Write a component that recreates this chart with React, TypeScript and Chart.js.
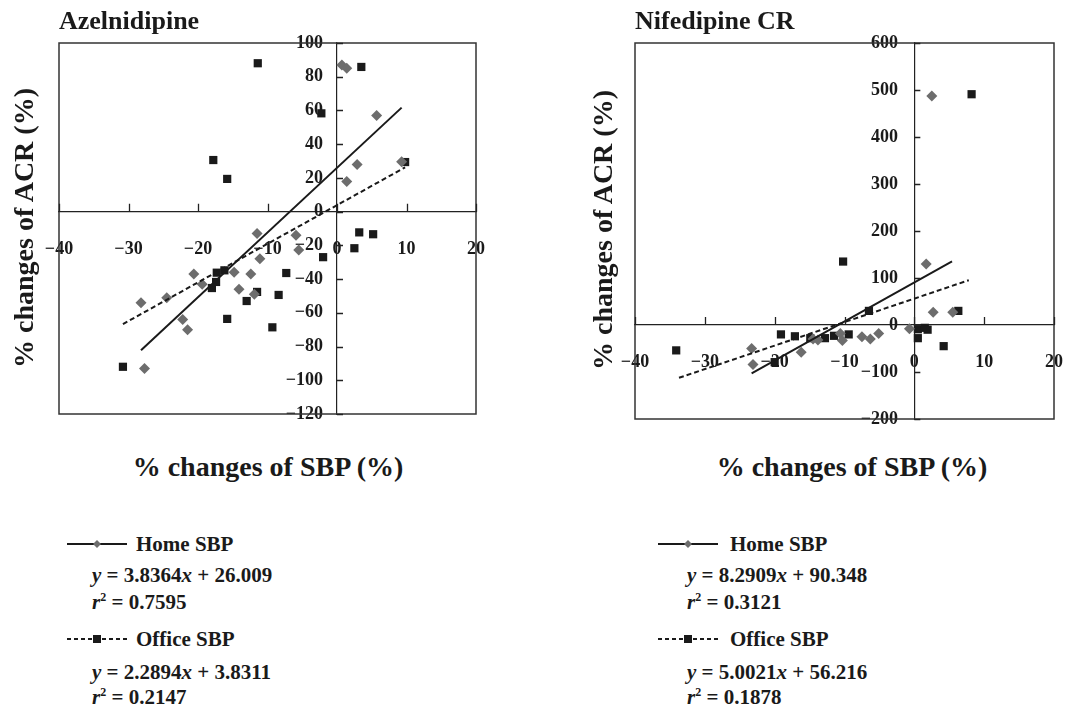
import React, { useEffect, useRef } from 'react';
import { Chart, registerables } from 'chart.js';

Chart.register(...registerables);

const SERIF = '"Liberation Serif", "Times New Roman", serif';
const INK = '#1a1a1a';
const GRAY = '#6d6d6d';

// ---------- Azelnidipine (left panel) ----------
const azHomeX = [0.7, 1.4, 5.7, 9.3, 2.9, 1.4, -11.5, -5.9, -5.5, -11.1, -20.6, -19.4, -14.8, -12.4, -14.1, -11.9, -24.5, -28.2, -22.2, -21.5, -27.7];
const azHomeY = [87, 85, 57, 29.6, 28, 17.8, -13, -14, -22.7, -28, -37, -43, -36, -37, -46, -49, -51, -54, -64, -70, -93];
const azOfficeX = [-11.4, 3.5, -2.25, 9.8, -17.8, -15.8, 3.2, 5.2, 2.5, -2.0, -7.3, -17.3, -16.2, -17.4, -18.0, -11.5, -8.4, -13.0, -15.8, -9.3, -30.8];
const azOfficeY = [88, 85.8, 58.3, 29.4, 30.6, 19.4, -12.3, -13.4, -21.7, -27, -36.4, -36.2, -34.8, -41.7, -45.3, -47.6, -49.4, -53, -63.6, -68.6, -92];
const AZ_HOME_SLOPE = 3.8364;
const AZ_HOME_INTERCEPT = 26.009;
const AZ_OFFICE_SLOPE = 2.2894;
const AZ_OFFICE_INTERCEPT = 3.8311;
const azHomeFitX = [-28.2, 9.3];
const azOfficeFitX = [-30.8, 9.8];

// ---------- Nifedipine CR (right panel) ----------
const nfHomeX = [2.5, 1.7, 2.7, 5.5, -0.7, -5.1, -6.3, -7.5, -10.6, -10.3, -13.8, -14.5, -16.2, -23.3, -23.1];
const nfHomeY = [487, 130, 27, 27, -8, -18, -30, -25, -18, -33, -32, -30, -58, -50, -84];
const nfOfficeX = [8.2, -10.2, -6.5, 6.3, 0.5, 1.5, 1.9, 0.5, 4.2, -34.1, -19.1, -17.1, -14.9, -12.8, -11.5, -9.4, -20.0];
const nfOfficeY = [491, 135, 30, 30, -9, -6, -10, -28, -45, -54, -20, -24, -28, -28, -23, -20, -79];
const NF_HOME_SLOPE = 8.2909;
const NF_HOME_INTERCEPT = 90.348;
const NF_OFFICE_SLOPE = 5.0021;
const NF_OFFICE_INTERCEPT = 56.216;
const nfHomeFitX = [-23.3, 5.4];
const nfOfficeFitX = [-33.7, 7.8];

// ---------- axes ----------
const xTickMin = -40;
const xTickMax = 20;
const xTickStep = 10;
const azYMin = -120;
const azYMax = 100;
const azYStep = 20;
const nfYMin = -200;
const nfYMax = 600;
const nfYStep = 100;

const toPoints = (xs: number[], ys: number[]) => xs.map((x, i) => ({ x, y: ys[i] }));
const fitPoints = (xs: number[], m: number, b: number) => xs.map((x) => ({ x, y: m * x + b }));
const fmt = (v: number | string) => {
  const n = Number(v);
  return n < 0 ? '\u2212' + Math.abs(n) : String(n);
};

// plot frame + inside tick marks on the crossing axes (positions come from the scales)
const framePlugin = {
  id: 'plotFrame',
  afterDraw(chart: any) {
    const { ctx, chartArea, scales } = chart;
    const xs = scales.x;
    const ys = scales.y;
    ctx.save();
    ctx.strokeStyle = '#333';
    ctx.lineWidth = 1.5;
    ctx.strokeRect(chartArea.left, chartArea.top, chartArea.right - chartArea.left, chartArea.bottom - chartArea.top);
    const y0 = ys.getPixelForValue(0);
    const x0 = xs.getPixelForValue(0);
    ctx.strokeStyle = '#222';
    ctx.lineWidth = 1.3;
    ctx.beginPath();
    xs.ticks.forEach((t: any) => {
      const px = Math.round(xs.getPixelForValue(t.value)) + 0.5;
      ctx.moveTo(px, y0);
      ctx.lineTo(px, y0 - 8);
    });
    ys.ticks.forEach((t: any) => {
      const py = Math.round(ys.getPixelForValue(t.value)) + 0.5;
      ctx.moveTo(x0, py);
      ctx.lineTo(x0 + 6, py);
    });
    ctx.stroke();
    ctx.restore();
  },
};

type PanelProps = {
  left: number;
  width: number;
  height: number;
  pad: { left: number; right: number; top: number; bottom: number };
  homeX: number[];
  homeY: number[];
  officeX: number[];
  officeY: number[];
  homeFitX: number[];
  officeFitX: number[];
  homeM: number;
  homeB: number;
  officeM: number;
  officeB: number;
  yMin: number;
  yMax: number;
  yStep: number;
  yLabelAt: number;
};

function Panel(p: PanelProps) {
  const ref = useRef<HTMLCanvasElement>(null);
  useEffect(() => {
    if (!ref.current) return;
    const tickFont = { family: SERIF, size: 18, weight: 'bold' as const };
    const chart = new Chart(ref.current, {
      type: 'scatter',
      data: {
        datasets: [
          {
            label: 'Home SBP fit',
            data: fitPoints(p.homeFitX, p.homeM, p.homeB),
            showLine: true,
            borderColor: INK,
            borderWidth: 2,
            pointRadius: 0,
            order: 1,
          },
          {
            label: 'Office SBP fit',
            data: fitPoints(p.officeFitX, p.officeM, p.officeB),
            showLine: true,
            borderColor: INK,
            borderWidth: 2,
            borderDash: [5, 3],
            pointRadius: 0,
            order: 1,
          },
          {
            label: 'Home SBP',
            data: toPoints(p.homeX, p.homeY),
            pointStyle: 'rectRot',
            pointRadius: 5.5,
            backgroundColor: GRAY,
            borderColor: GRAY,
            borderWidth: 0,
            order: 2,
          },
          {
            label: 'Office SBP',
            data: toPoints(p.officeX, p.officeY),
            pointStyle: 'rect',
            pointRadius: 5.8,
            backgroundColor: INK,
            borderColor: INK,
            borderWidth: 0,
            order: 2,
          },
        ],
      },
      options: {
        responsive: false,
        maintainAspectRatio: false,
        animation: false,
        events: [],
        layout: { padding: p.pad },
        plugins: {
          legend: { display: false },
          tooltip: { enabled: false },
          title: { display: false },
        },
        scales: {
          x: {
            type: 'linear',
            min: xTickMin,
            max: xTickMax,
            position: { y: 0 } as any,
            ticks: {
              stepSize: xTickStep,
              font: tickFont,
              color: INK,
              padding: 27,
              maxRotation: 0,
              autoSkip: false,
              callback: fmt,
            },
            grid: { display: false, drawOnChartArea: false, drawTicks: false },
            border: { display: true, color: '#222', width: 1.2 },
          },
          y: {
            type: 'linear',
            min: p.yMin,
            max: p.yMax,
            position: { x: 0 } as any,
            ticks: { display: false, stepSize: p.yStep },
            grid: { display: false, drawOnChartArea: false, drawTicks: false },
            border: { display: true, color: '#222', width: 1.2 },
          },
          yLab: {
            type: 'linear',
            axis: 'y',
            min: p.yMin,
            max: p.yMax,
            position: { x: p.yLabelAt } as any,
            ticks: { stepSize: p.yStep, font: tickFont, color: INK, callback: fmt, autoSkip: false },
            grid: { display: false, drawTicks: false },
            border: { display: false },
          },
        },
      } as any,
      plugins: [framePlugin],
    });
    return () => chart.destroy();
  }, []);
  return (
    <canvas
      ref={ref}
      width={p.width}
      height={p.height}
      style={{ position: 'absolute', left: p.left, top: 0, width: p.width, height: p.height }}
    />
  );
}

const textBase: React.CSSProperties = {
  position: 'absolute',
  fontFamily: SERIF,
  fontWeight: 'bold',
  color: INK,
  lineHeight: 1,
  whiteSpace: 'nowrap',
};

function LegendSample({ left, top, dashed }: { left: number; top: number; dashed: boolean }) {
  return (
    <svg style={{ position: 'absolute', left, top }} width={62} height={14}>
      <line x1={0} y1={7} x2={60} y2={7} stroke={INK} strokeWidth={2} strokeDasharray={dashed ? '4 3' : undefined} />
      {dashed ? (
        <rect x={26} y={3} width={8} height={8} fill={INK} />
      ) : (
        <polygon points="30,3 34,7 30,11 26,7" fill={GRAY} />
      )}
    </svg>
  );
}

function Legend({ x0, eqLeft, labelLeft, homeEq, homeR, officeEq, officeR }: {
  x0: number; eqLeft: number; labelLeft: number; homeEq: [string, string]; homeR: string; officeEq: [string, string]; officeR: string;
}) {
  const eq = (m: string, b: string, top: number) => (
    <div style={{ ...textBase, left: eqLeft, top, fontSize: 21 }}>
      <i>y</i> = {m}<i>x</i> + {b}
    </div>
  );
  const r2 = (v: string, top: number) => (
    <div style={{ ...textBase, left: eqLeft, top, fontSize: 21 }}>
      <i>r</i><sup style={{ fontSize: 12, verticalAlign: 8 }}>2</sup> = {v}
    </div>
  );
  return (
    <>
      <LegendSample left={x0} top={537} dashed={false} />
      <div style={{ ...textBase, left: labelLeft, top: 534, fontSize: 21 }}>Home SBP</div>
      {eq(homeEq[0], homeEq[1], 565)}
      {r2(homeR, 591)}
      <LegendSample left={x0} top={632} dashed={true} />
      <div style={{ ...textBase, left: labelLeft, top: 629, fontSize: 21 }}>Office SBP</div>
      {eq(officeEq[0], officeEq[1], 662)}
      {r2(officeR, 686)}
    </>
  );
}

export default function App() {
  return (
    <div style={{ position: 'absolute', left: 0, top: 0, width: 1092, height: 707, background: '#fff', overflow: 'hidden' }}>
      <Panel
        left={0}
        width={546}
        height={440}
        pad={{ left: 59, right: 70, top: 43, bottom: 26 }}
        homeX={azHomeX}
        homeY={azHomeY}
        officeX={azOfficeX}
        officeY={azOfficeY}
        homeFitX={azHomeFitX}
        officeFitX={azOfficeFitX}
        homeM={AZ_HOME_SLOPE}
        homeB={AZ_HOME_INTERCEPT}
        officeM={AZ_OFFICE_SLOPE}
        officeB={AZ_OFFICE_INTERCEPT}
        yMin={azYMin}
        yMax={azYMax}
        yStep={azYStep}
        yLabelAt={-2}
      />
      <Panel
        left={546}
        width={546}
        height={440}
        pad={{ left: 89, right: 38, top: 43, bottom: 21 }}
        homeX={nfHomeX}
        homeY={nfHomeY}
        officeX={nfOfficeX}
        officeY={nfOfficeY}
        homeFitX={nfHomeFitX}
        officeFitX={nfOfficeFitX}
        homeM={NF_HOME_SLOPE}
        homeB={NF_HOME_INTERCEPT}
        officeM={NF_OFFICE_SLOPE}
        officeB={NF_OFFICE_INTERCEPT}
        yMin={nfYMin}
        yMax={nfYMax}
        yStep={nfYStep}
        yLabelAt={-2.35}
      />

      <div style={{ ...textBase, left: 59, top: 8, fontSize: 26 }}>Azelnidipine</div>
      <div style={{ ...textBase, left: 635, top: 8, fontSize: 26 }}>Nifedipine CR</div>

      <div style={{ ...textBase, left: 268, top: 453, fontSize: 28, transform: 'translateX(-50%)' }}>% changes of SBP (%)</div>
      <div style={{ ...textBase, left: 852, top: 453, fontSize: 28, transform: 'translateX(-50%)' }}>% changes of SBP (%)</div>

      <div style={{ ...textBase, left: 24, top: 228, fontSize: 28, transform: 'translate(-50%, -50%) rotate(-90deg)' }}>% changes of ACR (%)</div>
      <div style={{ ...textBase, left: 603, top: 230, fontSize: 28, transform: 'translate(-50%, -50%) rotate(-90deg)' }}>% changes of ACR (%)</div>

      <Legend
        x0={67}
        eqLeft={92}
        labelLeft={136}
        homeEq={['3.8364', '26.009']}
        homeR="0.7595"
        officeEq={['2.2894', '3.8311']}
        officeR="0.2147"
      />
      <Legend
        x0={658}
        eqLeft={687}
        labelLeft={730}
        homeEq={['8.2909', '90.348']}
        homeR="0.3121"
        officeEq={['5.0021', '56.216']}
        officeR="0.1878"
      />
    </div>
  );
}
